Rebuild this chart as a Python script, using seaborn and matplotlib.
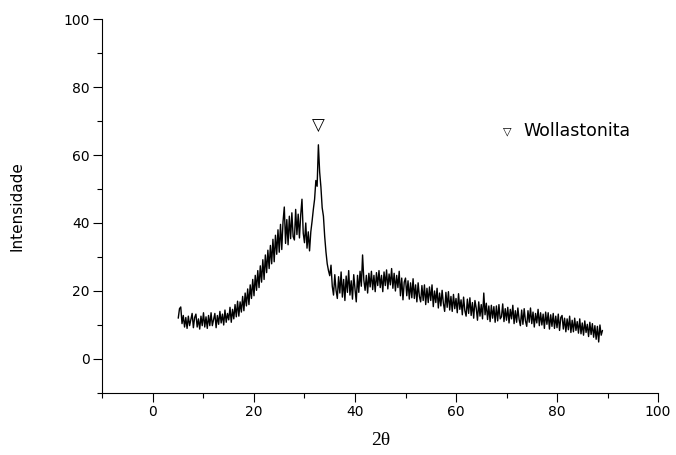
import numpy as np
import matplotlib
matplotlib.use("Agg")
import matplotlib.pyplot as plt
import seaborn as sns

# XRD scan, 2theta from 5 to 89 deg, step 0.25
two_theta = np.arange(5, 89.01, 0.25)

intensity = [
    12.0, 14.8, 15.3, 10.4,  12.8, 9.4, 12.2, 9.0,    12.6, 9.8, 11.6, 13.4,
    9.2, 12.2, 13.2, 9.4,    11.8, 8.8, 12.6, 9.8,    13.6, 9.4, 12.4, 9.0,
    12.8, 9.8, 13.6, 9.8,    11.6, 13.4, 9.2, 12.8,   10.2, 14.0, 10.6, 13.2,
    10.0, 14.4, 10.8, 13.4,  11.5, 15.2, 10.8, 14.6,  11.8, 16.0, 12.4, 17.0,
    12.6, 16.8, 13.8, 18.4,  14.2, 19.4, 15.6, 20.6,  16.0, 21.8, 17.8, 23.4,
    18.6, 24.6, 20.2, 26.0,  21.0, 27.4, 22.6, 29.2,  23.4, 30.6, 25.4, 32.0,
    26.6, 33.4, 28.0, 35.2,  28.6, 36.4, 30.8, 38.0,  31.4, 39.6, 32.2, 40.4,
    44.7, 34.0, 41.0, 33.6,  42.0, 35.4, 43.0, 36.0,  35.0, 44.0, 36.6, 42.6,
    35.6, 42.4, 47.0, 37.0,  34.2, 40.0, 32.6, 37.4,  31.8, 37.4, 40.5, 44.0,
    47.0, 52.5, 50.8, 63.0,  55.0, 50.6, 44.5, 42.0,  36.0, 31.5, 28.0, 26.0,
    24.5, 27.6, 21.4, 18.8,  24.8, 20.2, 17.8, 24.2,  19.4, 25.6, 18.2, 23.4,
    17.2, 24.4, 19.6, 26.0,  18.8, 23.0, 17.6, 24.8,  20.6, 16.8, 24.6, 19.6,
    25.8, 21.4, 30.6, 23.2,  20.2, 24.6, 19.4, 25.2,  21.2, 25.8, 20.4, 24.6,
    19.8, 25.4, 21.6, 26.0,  21.0, 24.6, 19.8, 25.6,  21.6, 26.2, 20.6, 25.0,
    21.8, 26.6, 20.8, 25.2,  20.0, 24.6, 21.0, 25.8,  18.6, 23.8, 17.4, 22.6,
    23.8, 18.6, 23.0, 17.6,  22.4, 18.0, 23.6, 17.8,  21.8, 16.8, 22.4, 18.4,
    16.8, 21.6, 17.2, 21.8,  16.0, 20.8, 16.6, 21.2,  17.2, 21.8, 15.4, 20.0,
    16.6, 20.8, 15.0, 19.4,  15.6, 20.2, 16.4, 14.0,  19.6, 15.2, 19.8, 14.4,
    18.4, 14.0, 19.0, 14.8,  17.8, 13.6, 19.2, 14.6,  17.4, 13.0, 18.2, 14.2,
    12.6, 17.6, 13.4, 18.0,  12.8, 16.6, 12.0, 17.2,  15.0, 11.4, 16.8, 12.6,
    16.0, 11.8, 19.4, 13.0,  16.4, 11.6, 15.6, 11.0,  15.8, 12.0, 15.4, 10.8,
    15.6, 11.2, 16.0, 11.8,  12.4, 16.2, 11.0, 14.8,  11.4, 15.2, 10.6, 14.6,
    11.8, 15.8, 10.4, 14.2,  10.8, 15.0, 11.6, 9.8,   14.4, 10.2, 14.8, 11.2,
    9.6, 14.2, 10.8, 15.0,   10.4, 13.8, 9.4, 13.4,   10.6, 14.6, 9.8, 13.6,
    10.0, 13.2, 9.0, 13.8,   10.2, 13.6, 8.8, 13.0,   9.6, 13.4, 9.0, 12.6,
    9.2, 13.2, 8.4, 12.2,    12.8, 8.8, 12.0, 8.0,    11.8, 8.6, 12.6, 7.8,
    11.4, 8.0, 12.0, 8.4,    11.0, 7.6, 11.8, 7.4,    10.6, 7.0, 11.2, 7.8,
    10.2, 6.6, 10.8, 7.2,    10.4, 6.4, 9.8, 5.8,     9.6, 5.0, 10.0, 7.0,
    8.4,
]

phase_label = "Wollastonita"

sns.set_style("ticks")
plt.rcParams["font.family"] = ["DejaVu Sans"]
plt.rcParams.update({
    "text.color": "black",
    "axes.labelcolor": "black",
    "axes.edgecolor": "black",
    "xtick.color": "black",
    "ytick.color": "black",
})

fig = plt.figure(figsize=(6.76, 4.55), dpi=100)
ax = fig.add_axes([0.1516, 0.1363, 0.8218, 0.8219])

sns.lineplot(x=two_theta, y=intensity, color="black", linewidth=1.0,
             estimator=None, ax=ax)

# peak marker above the strongest reflection
i_max = int(np.argmax(intensity))
ax.text(two_theta[i_max], intensity[i_max] + 3, "\u25bd", ha="center",
        va="bottom", fontsize=12, color="black")

ax.text(0.728, 0.70, "\u25bd", transform=ax.transAxes, ha="center",
        va="center", fontsize=8)
ax.text(0.757, 0.70, phase_label, transform=ax.transAxes, ha="left",
        va="center", fontsize=12.5)

ax.set_xlim(-10, 100)
ax.set_ylim(-10, 100)
ax.set_xticks(range(0, 101, 20))
ax.set_xticks(range(-10, 101, 20), minor=True)
ax.set_yticks(range(0, 101, 20))
ax.set_yticks(range(-10, 101, 20), minor=True)
ax.tick_params(which="major", direction="out", length=6.5, width=0.8,
               labelsize=10, pad=2.5)
ax.tick_params(which="minor", direction="out", length=3.5, width=0.8)

ax.set_xlabel("2\u03b8", family=["Liberation Serif"], fontsize=14, labelpad=9)
ax.set_ylabel("Intensidade", fontsize=11, labelpad=28)

sns.despine(ax=ax)
for s in ["left", "bottom"]:
    ax.spines[s].set_linewidth(0.8)

fig.savefig("out.png", dpi=100)
plt.close(fig)
